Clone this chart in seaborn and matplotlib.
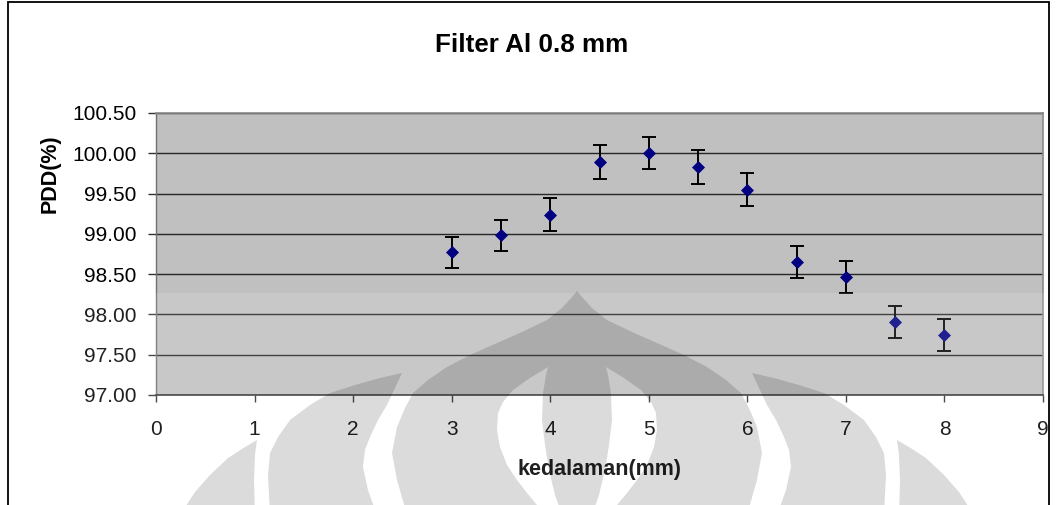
import numpy as np
import pandas as pd
import matplotlib
matplotlib.use('Agg')
import matplotlib.pyplot as plt
import seaborn as sns
from matplotlib.patches import Rectangle, PathPatch
from matplotlib.path import Path

# ---------------- data ----------------
depth = [3.0, 3.5, 4.0, 4.5, 5.0, 5.5, 6.0, 6.5, 7.0, 7.5, 8.0]
pdd = [98.77, 98.98, 99.24, 99.89, 100.00, 99.83, 99.55, 98.65, 98.46, 97.91, 97.74]
err = [0.19, 0.19, 0.20, 0.21, 0.20, 0.21, 0.21, 0.20, 0.20, 0.20, 0.20]
x_ticks = [0, 1, 2, 3, 4, 5, 6, 7, 8, 9]
y_ticks = [97.00, 97.50, 98.00, 98.50, 99.00, 99.50, 100.00, 100.50]
title = "Filter Al 0.8 mm"
x_label = "kedalaman(mm)"
y_label = "PDD(%)"

W, H = 1057, 505
sns.set_style('white')
plt.rcParams['font.family'] = ['Liberation Sans', 'DejaVu Sans']
plt.rcParams['text.color'] = 'black'
plt.rcParams['axes.labelcolor'] = 'black'
plt.rcParams['xtick.color'] = 'black'
plt.rcParams['ytick.color'] = 'black'

fig = plt.figure(figsize=(W / 100, H / 100), dpi=100)
fig.patch.set_facecolor('white')

L, R, T, B = 156, 1043, 113, 395
ax = fig.add_axes([L / W, 1 - B / H, (R - L) / W, (B - T) / H])
ax.set_facecolor('#c0c0c0')

df = pd.DataFrame({'depth': depth, 'pdd': pdd, 'err': err})
ax.errorbar(df['depth'], df['pdd'], yerr=df['err'], fmt='none', ecolor='black',
            elinewidth=1.4, capsize=5.2, capthick=1.4, zorder=3)
sns.scatterplot(data=df, x='depth', y='pdd', marker='D', s=44, color='#000080',
                edgecolor='#000080', linewidth=0, ax=ax, zorder=4, legend=False)

ax.set_xlim(0, 9)
ax.set_ylim(97, 100.5)
ax.set_xticks(x_ticks)
ax.set_xticklabels([str(v) for v in x_ticks])
ax.set_yticks(y_ticks)
ax.set_yticklabels([f'{v:.2f}' for v in y_ticks])
ax.grid(axis='y', color='#262626', lw=1.0)
ax.grid(axis='x', visible=False)
ax.set_axisbelow(True)

ax.tick_params(axis='x', direction='out', length=5, width=1, color='#303030',
               pad=13, labelsize=15, labelcolor='black', bottom=True)
ax.tick_params(axis='y', direction='out', length=5.8, width=1, color='#303030',
               pad=8, labelsize=15, labelcolor='black', left=True)

for s in ['top', 'right']:
    ax.spines[s].set_color('#8a8a8a')
    ax.spines[s].set_linewidth(1.2)
ax.spines['left'].set_color('#707070')
ax.spines['left'].set_linewidth(1.0)
ax.spines['bottom'].set_color('#303030')
ax.spines['bottom'].set_linewidth(1.2)

ax.set_xlabel(x_label, fontsize=15.5, fontweight='bold', color='black')
ax.set_ylabel(y_label, fontsize=15.5, fontweight='bold', color='black')
ax.xaxis.set_label_coords(0.5, (B - 459) / (B - T))
ax.yaxis.set_label_coords((61 - L) / (R - L), (B - 173.5) / (B - T))

fig.text(532 / W, 1 - 45 / H, title, ha='center', va='center',
         fontsize=18.7, fontweight='bold', color='black')

# ---------------- watermark overlay (decoration) ----------------
def fpt(p):
    return (p[0] / W, 1 - p[1] / H)

def mirror(pts):
    return [(1154 - x, y) for x, y in pts]

def area(pts):
    a = 0
    for i in range(len(pts)):
        x1, y1 = pts[i]
        x2, y2 = pts[(i + 1) % len(pts)]
        a += x1 * y2 - x2 * y1
    return a / 2

def compound(rings):
    verts, codes = [], []
    for ring in rings:
        pts = [fpt(p) for p in ring]
        verts += pts + [pts[0]]
        codes += [Path.MOVETO] + [Path.LINETO] * (len(pts) - 1) + [Path.CLOSEPOLY]
    return Path(verts, codes)

fig.add_artist(Rectangle((0, 0), 1, 1 - 292.7 / H, transform=fig.transFigure,
                         facecolor='white', edgecolor='none', alpha=0.13, zorder=5))

p1 = [(257, 440), (245, 447), (228, 458), (210, 475), (195, 492), (180, 515),
      (255, 515), (254, 480), (255, 455)]
p2 = [(402, 373), (380, 378), (355, 385), (330, 393), (310, 405), (290, 420),
      (278, 437), (270, 453), (268, 475), (270, 515), (377, 515), (368, 490),
      (363, 467), (365, 450), (370, 437), (378, 420), (387, 405), (395, 388)]
left_edge = [(407, 515), (397, 480), (392, 453), (397, 427), (405, 408), (413, 393),
             (428, 380), (447, 367), (470, 355), (497, 343), (522, 332), (547, 320),
             (562, 308), (572, 297)]
body = left_edge + [(577, 291)] + mirror(left_edge)[::-1]
lens = [(548, 367), (530, 378), (513, 390), (503, 402), (498, 413), (497, 430),
        (500, 447), (507, 465), (517, 480), (527, 493), (537, 505), (545, 515),
        (562, 515), (555, 495), (549, 470), (545, 445), (542, 420), (543, 393),
        (546, 375)]
lens_r = mirror(lens)
rings = [body]
for h in (lens, lens_r):
    if np.sign(area(h)) == np.sign(area(body)):
        h = h[::-1]
    rings.append(h)

shapes = [compound([p1]), compound([p2]), compound([mirror(p1)]),
          compound([mirror(p2)]), compound(rings)]
for pth in shapes:
    fig.add_artist(PathPatch(pth, transform=fig.transFigure, facecolor='black',
                             edgecolor='none', alpha=0.14, zorder=6))

# chart border
fig.add_artist(Rectangle((8 / W, -0.05), (1049 - 8) / W, 1.05 - 1.5 / H,
                         transform=fig.transFigure, facecolor='none',
                         edgecolor='black', linewidth=1.3, zorder=7))

fig.savefig('out.png', dpi=100, facecolor='white')
